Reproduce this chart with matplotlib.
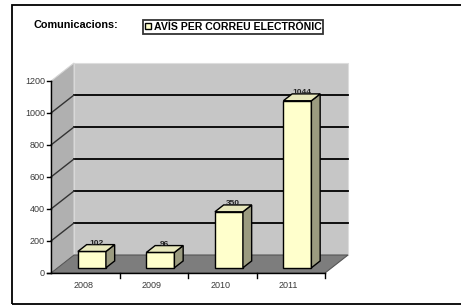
import matplotlib
matplotlib.use("Agg")
import matplotlib.pyplot as plt
from matplotlib.patches import Polygon, Rectangle, Patch
import numpy as np

# ---- data ----
years = ["2008", "2009", "2010", "2011"]
values = [102, 96, 350, 1044]
y_ticks = [0, 200, 400, 600, 800, 1000, 1200]
title = "Comunicacions:"
series_name = "AVÍS PER CORREU ELECTRÒNIC"

plt.rcParams['font.family'] = ['Liberation Sans', 'DejaVu Sans']

W, H = 461, 307
fig = plt.figure(figsize=(W / 100, H / 100), dpi=100)
fig.patch.set_facecolor("white")
ax = fig.add_axes([0, 0, 1, 1])
ax.set_axis_off()

# pixel mapping of the front plane
X0, XS = 51.0, 68.5       # px of category 0, px per category
Y0, YS = 34.0, 0.16       # px from bottom of value 0, px per unit
ax.set_xlim(-X0 / XS, (W - X0) / XS)
ax.set_ylim(-Y0 / YS, (H - Y0) / YS)

ymax = y_ticks[-1]
n = len(years)
DX = 23 / XS          # depth offset (category units)
DY = 18 / YS          # depth offset (value units)

# walls & floor
back = Polygon([(DX, DY), (n + DX, DY), (n + DX, ymax + DY), (DX, ymax + DY)],
               closed=True, facecolor="#c6c6c6", edgecolor="#dddddd", lw=0.8, zorder=1)
left = Polygon([(0, 0), (DX, DY), (DX, ymax + DY), (0, ymax)],
               closed=True, facecolor="#b0b0b0", edgecolor="#d5d5d5", lw=0.8, zorder=1)
floor = Polygon([(0, 0), (n, 0), (n + DX, DY), (DX, DY)],
                closed=True, facecolor="#7d7d7d", edgecolor="#555555", lw=0.8, zorder=1)
for p in (back, left, floor):
    ax.add_patch(p)

# gridlines
for v in y_ticks[1:-1]:
    ax.plot([DX, n + DX], [v + DY, v + DY], color="black", lw=1.3, zorder=2)
    ax.plot([0, DX], [v, v + DY], color="#333333", lw=1.0, zorder=2)

# front axes
ax.plot([0, 0], [0, ymax], color="black", lw=1.0, zorder=5)
ax.plot([-4 / XS, n], [0, 0], color="black", lw=1.0, zorder=5)
for v in y_ticks:
    ax.plot([-4 / XS, 0], [v, v], color="black", lw=1.0, zorder=5)
    ax.text(-6 / XS, v, str(v), ha="right", va="center", fontsize=6.5, color="#3a3a3a")
for i in range(1, n + 1):
    ax.plot([i, i], [0, -5 / YS], color="black", lw=1.0, zorder=5)
for i, yl in enumerate(years):
    ax.text(i + 0.47, -12 / YS, yl, ha="center", va="center", fontsize=6.5, color="#3a3a3a")

# bars
f0, dep = 0.29, 0.38
bw = 28 / XS
x_left = np.arange(n) + 0.5 - bw / 2 + f0 * DX
bottom = f0 * DY
bars = ax.bar(x_left, values, width=bw, bottom=bottom, align="edge",
              color="#ffffcc", edgecolor="black", lw=1.0, zorder=6)
ddx, ddy = dep * DX, dep * DY
for xl, v in zip(x_left, values):
    xr = xl + bw
    top = bottom + v
    ax.add_patch(Polygon([(xr, bottom), (xr + ddx, bottom + ddy), (xr + ddx, top + ddy), (xr, top)],
                         closed=True, facecolor="#9b9b80", edgecolor="black", lw=1.0, zorder=6))
    ax.add_patch(Polygon([(xl, top), (xr, top), (xr + ddx, top + ddy), (xl + ddx, top + ddy)],
                         closed=True, facecolor="#e8e8bc", edgecolor="black", lw=1.0, zorder=6))
    ax.text(xl + bw / 2 + ddx / 2, top + ddy - 2 / YS, str(v), ha="center", va="bottom",
            fontsize=6, color="#222222", fontweight="bold", zorder=7)

# title and legend
fig.text(33 / W, 1 - 25 / H, title, ha="left", va="center", fontsize=7.8, fontweight="bold")
handle = Patch(facecolor="#ffffcc", edgecolor="black", lw=1.0)
leg = fig.legend([handle], [series_name], loc="center left",
                 bbox_to_anchor=(143 / W, 1 - 27 / H), frameon=True, fancybox=False,
                 handlelength=0.55, handleheight=0.55, handletextpad=0.25,
                 borderpad=0.2, borderaxespad=0, prop={"size": 7.6, "weight": "bold"})
leg.get_frame().set_edgecolor("black")
leg.get_frame().set_linewidth(1.3)

# outer border
fig.patches.append(Rectangle((12 / W, 3 / H), 1.2, (H - 8) / H, transform=fig.transFigure,
                             fill=False, edgecolor="black", lw=1.3, figure=fig))

fig.savefig("out.png", dpi=100)
